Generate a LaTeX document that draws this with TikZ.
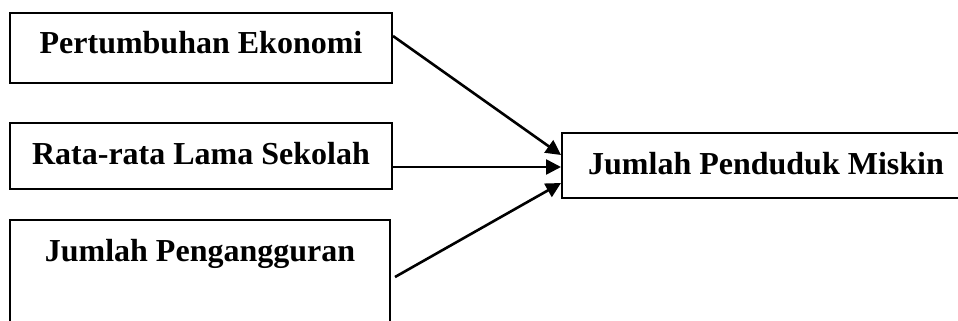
\documentclass[tikz,border=0pt]{standalone}
\usepackage{fontspec}
\setmainfont{Liberation Serif}
\usetikzlibrary{arrows.meta}
\begin{document}
\begin{tikzpicture}[x=1pt,y=-1pt,
  box/.style={draw, line width=2pt, inner sep=0pt, anchor=north west,
    font=\fontsize{32}{36}\selectfont\bfseries, text height=41pt},
  link/.style={line width=2.6pt, -{Triangle[length=15pt,width=15pt]}}]
\useasboundingbox (0,0) rectangle (958,321);
\clip (0,0) rectangle (958,321);
\node[box, minimum width=382pt, text depth=29pt] (b1) at (9,12) {Pertumbuhan Ekonomi};
\node[box, minimum width=382pt, text depth=25pt] (b2) at (9,122) {Rata-rata Lama Sekolah};
\node[box, minimum width=380pt, text depth=70pt] (b3) at (9,219) {Jumlah Pengangguran};
\node[box, minimum width=408pt, text depth=24pt] (r) at (561,132) {Jumlah Penduduk Miskin};
\draw[link] ([yshift=12pt]b1.east) -- ([yshift=10.5pt]r.west);
\draw[link] ([yshift=-11pt]b2.east) -- ([yshift=-1.5pt]r.west);
\draw[link] ([xshift=4pt,yshift=-1.5pt]b3.east) -- ([yshift=-17.5pt]r.west);
\end{tikzpicture}
\end{document}
